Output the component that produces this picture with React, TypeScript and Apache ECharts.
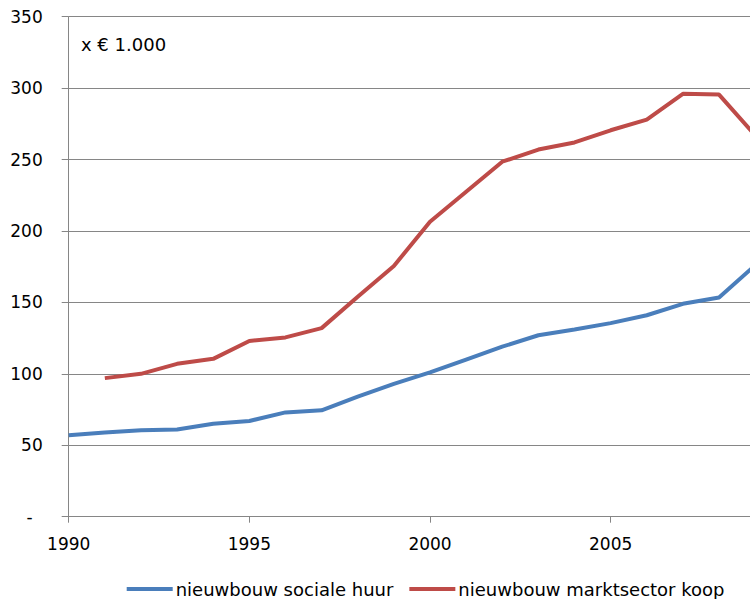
import React, { useEffect, useRef } from "react";
import * as echarts from "echarts";

const years = [1990, 1991, 1992, 1993, 1994, 1995, 1996, 1997, 1998, 1999, 2000, 2001, 2002, 2003, 2004, 2005, 2006, 2007, 2008, 2009];
const socialeHuur = [57, 59, 60.5, 61, 65, 67, 73, 74.5, 84, 93, 101, 110, 119, 127, 131, 135.5, 141, 149, 153.5, 176];
const marktsectorKoop = [null, 97, 100, 107, 110.5, 123, 125.5, 132, 154, 175.5, 206.5, 227.5, 248.5, 257, 262, 270.5, 278, 296, 295.5, 267];
const yTicks = { min: 0, max: 350, interval: 50 };
const xTicks = { min: 1990, max: 2010, interval: 5 };
const seriesNames = ["nieuwbouw sociale huur", "nieuwbouw marktsector koop"];
const unitLabel = "x € 1.000";

const FONT = "DejaVu Sans";

export default function App() {
  const ref = useRef<HTMLDivElement>(null);
  useEffect(() => {
    if (!ref.current) return;
    const chart = echarts.init(ref.current, undefined, { renderer: "svg" });
    const pair = (arr: (number | null)[]) => years.map((y, i) => [y, arr[i]]);
    chart.setOption({
      animation: false,
      textStyle: { fontFamily: FONT },
      grid: { left: 68.7, right: 8.7, top: 16.7, bottom: 82.3, containLabel: false },
      xAxis: {
        type: "value",
        min: xTicks.min,
        max: xTicks.max,
        interval: xTicks.interval,
        axisLine: { show: true, lineStyle: { color: "#868686", width: 1 } },
        axisTick: { show: true, length: 6, lineStyle: { color: "#868686" } },
        axisLabel: {
          margin: 19,
          color: "#000",
          fontSize: 17,
          fontFamily: FONT,
          showMaxLabel: false,
          formatter: (v: number) => String(v),
        },
        splitLine: { show: false },
      },
      yAxis: {
        type: "value",
        min: yTicks.min,
        max: yTicks.max,
        interval: yTicks.interval,
        axisLine: { show: true, lineStyle: { color: "#868686", width: 1 } },
        axisTick: { show: true, length: 7, lineStyle: { color: "#868686" } },
        axisLabel: {
          margin: 26,
          color: "#000",
          fontSize: 17,
          fontFamily: FONT,
          formatter: (v: number) => (v === 0 ? "{d|-}" : String(v)),
          rich: { d: { padding: [0, 10, 0, 0], fontSize: 17, fontFamily: FONT, color: "#000" } },
        },
        splitLine: { show: true, lineStyle: { color: "#868686", width: 1 } },
      },
      legend: {
        show: true,
        left: 126.7,
        top: 579,
        padding: 0,
        icon: "rect",
        itemWidth: 46,
        itemHeight: 4,
        itemGap: 16,
        textStyle: { fontSize: 18, lineHeight: 20, fontFamily: FONT, color: "#000", padding: [0, 0, 0, -2] },
        data: seriesNames,
      },
      graphic: [
        {
          type: "text",
          left: 81,
          top: 35,
          style: { text: unitLabel, font: `18px "${FONT}"`, fill: "#000" },
        },
      ],
      series: [
        {
          name: seriesNames[0],
          type: "line",
          data: pair(socialeHuur),
          symbol: "none",
          lineStyle: { color: "#4A7EBB", width: 4 },
          itemStyle: { color: "#4A7EBB" },
        },
        {
          name: seriesNames[1],
          type: "line",
          data: pair(marktsectorKoop),
          symbol: "none",
          connectNulls: false,
          lineStyle: { color: "#BE4B48", width: 4 },
          itemStyle: { color: "#BE4B48" },
        },
      ],
    });
    return () => chart.dispose();
  }, []);
  return (
    <div style={{ position: "fixed", left: 0, top: 0, width: 750, height: 599, overflow: "hidden", background: "#fff" }}>
      <div ref={ref} style={{ width: 800, height: 599 }} />
    </div>
  );
}
